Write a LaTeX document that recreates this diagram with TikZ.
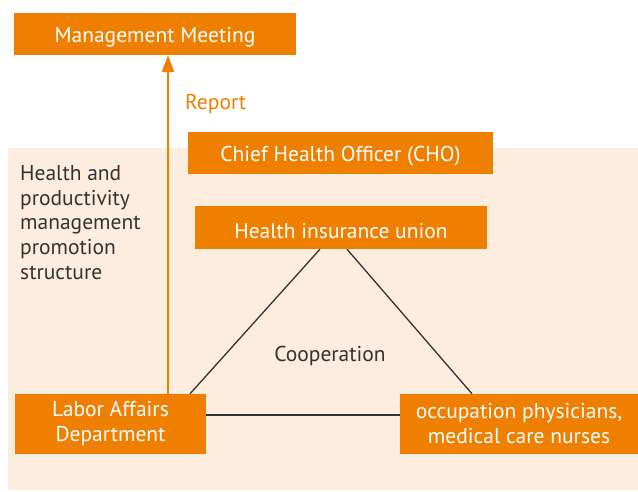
\documentclass[tikz,border=0pt]{standalone}
\usepackage{fontspec}
\setmainfont{PT Sans}
\usetikzlibrary{arrows.meta}
\definecolor{org}{RGB}{238,127,0}
\definecolor{bgc}{RGB}{253,237,223}
\definecolor{ln}{RGB}{51,51,51}
\begin{document}
\begin{tikzpicture}[x=1pt,y=-1pt,
  box/.style={fill=org,draw=none,text=white,font=\fontsize{21.5}{25}\selectfont,align=center,inner sep=0pt,execute at begin node=\rule{0pt}{22pt}},
  conn/.style={draw=ln,line width=1.3pt},
  arr/.style={draw=org,line width=2.4pt,-{Triangle[width=12pt,length=17pt]}}]
\useasboundingbox (0,0) rectangle (638,492);
\fill[white] (0,0) rectangle (638,492);
\fill[bgc] (8,148) rectangle (638,490);
\node[box,minimum width=282pt,minimum height=42pt] (mm) at (155,34) {Management Meeting};
\node[box,minimum width=305pt,minimum height=42pt] (cho) at (340.5,153) {Chief Health Officer (CHO)};
\node[box,minimum width=292pt,minimum height=43pt] (hiu) at (341,227.5) {Health insurance union};
\node[box,minimum width=191pt,minimum height=60pt] (lab) at (110.5,424) {Labor Affairs\\Department};
\node[box,minimum width=238pt,minimum height=60pt] (occ) at (519,424) {occupation physicians,\\medical care nurses};
\draw[arr] ([xshift=57.5pt]lab.north) -- ([xshift=57.5pt]lab.north |- mm.south);
\node[anchor=west,text=org,font=\fontsize{21.5}{25}\selectfont,inner sep=0pt] (rep) at (185,104) {Report};
\node[anchor=north west,align=left,font=\fontsize{21.5}{24.8}\selectfont,inner sep=0pt,text=ln] (hp) at (20,165) {Health and\\productivity\\management\\promotion\\structure};
\node[font=\fontsize{21.5}{25}\selectfont,text=ln,inner sep=0pt] (coop) at (330,356) {Cooperation};
\draw[conn] ([xshift=-21pt]hiu.south) -- ([xshift=79.5pt]lab.north);
\draw[conn] ([xshift=6pt]hiu.south) -- ([xshift=-47pt]occ.north);
\draw[conn] ([yshift=9pt]lab.east) -- ([yshift=9pt]lab.east -| occ.west);
\end{tikzpicture}
\end{document}
